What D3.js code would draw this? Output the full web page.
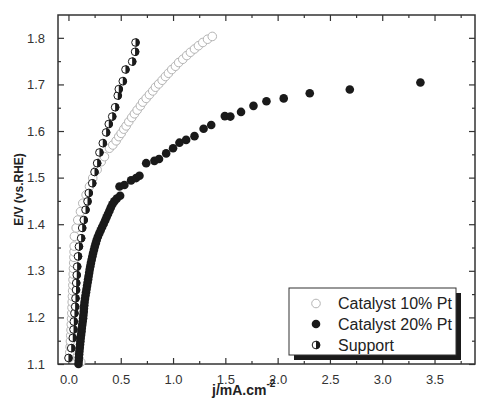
<!DOCTYPE html>
<html>
<head>
<meta charset="utf-8">
<script src="https://cdn.jsdelivr.net/npm/d3@7/dist/d3.min.js"></script>
<style>
  html, body { margin: 0; padding: 0; background: #fff; }
  svg { display: block; font-family: Arial, "Liberation Sans", sans-serif; }
</style>
</head>
<body>
<div id="chart"></div>
<script>
// polarisation curves, E (V vs RHE) against j (mA/cm2)
const seriesNames = ['Catalyst 10% Pt', 'Catalyst 20% Pt', 'Support'];

const xTicks = [0.0, 0.5, 1.0, 1.5, 2.0, 2.5, 3.0, 3.5];
const yTicks = [1.1, 1.2, 1.3, 1.4, 1.5, 1.6, 1.7, 1.8];

// [j, E]
const cat10 = [
  [0.118, 1.104], [0.010, 1.113], [0.013, 1.125], [0.016, 1.137], [0.019, 1.149],
  [0.022, 1.161], [0.025, 1.173], [0.027, 1.185], [0.030, 1.197], [0.032, 1.209],
  [0.034, 1.221], [0.036, 1.233], [0.038, 1.245], [0.040, 1.257], [0.042, 1.269],
  [0.044, 1.281], [0.046, 1.293], [0.048, 1.305], [0.050, 1.317], [0.052, 1.329],
  [0.054, 1.341], [0.055, 1.353], [0.057, 1.374], [0.074, 1.392], [0.089, 1.409],
  [0.115, 1.427], [0.137, 1.445], [0.169, 1.463], [0.201, 1.481], [0.232, 1.499],
  [0.274, 1.517], [0.313, 1.534], [0.344, 1.545], [0.392, 1.563], [0.424, 1.570],
  [0.456, 1.579], [0.481, 1.588], [0.504, 1.595], [0.529, 1.604], [0.552, 1.611],
  [0.577, 1.620], [0.605, 1.629], [0.631, 1.637], [0.657, 1.645], [0.688, 1.654],
  [0.710, 1.662], [0.743, 1.670], [0.774, 1.678], [0.806, 1.686], [0.832, 1.694],
  [0.863, 1.701], [0.896, 1.709], [0.927, 1.717], [0.956, 1.724], [0.988, 1.732],
  [1.023, 1.739], [1.054, 1.747], [1.093, 1.754], [1.131, 1.762], [1.166, 1.769],
  [1.205, 1.776], [1.243, 1.783], [1.284, 1.790], [1.330, 1.797], [1.375, 1.803]
];

const cat20 = [
  [0.096, 1.100], [0.098, 1.107], [0.100, 1.114], [0.102, 1.121], [0.105, 1.128],
  [0.108, 1.135], [0.111, 1.142], [0.114, 1.149], [0.117, 1.156], [0.121, 1.163],
  [0.125, 1.170], [0.128, 1.177], [0.132, 1.184], [0.136, 1.191], [0.140, 1.198],
  [0.143, 1.205], [0.146, 1.212], [0.148, 1.219], [0.151, 1.226], [0.154, 1.233],
  [0.158, 1.240], [0.163, 1.247], [0.168, 1.254], [0.173, 1.261], [0.178, 1.268],
  [0.183, 1.275], [0.188, 1.282], [0.193, 1.289], [0.198, 1.296], [0.203, 1.303],
  [0.209, 1.310], [0.215, 1.317], [0.222, 1.324], [0.229, 1.331], [0.236, 1.338],
  [0.244, 1.345], [0.252, 1.352], [0.261, 1.359], [0.270, 1.366], [0.281, 1.373],
  [0.294, 1.380], [0.308, 1.387], [0.322, 1.394], [0.337, 1.401], [0.351, 1.408],
  [0.364, 1.415], [0.378, 1.422], [0.392, 1.429], [0.405, 1.436], [0.420, 1.443],
  [0.438, 1.449], [0.462, 1.455], [0.494, 1.461], [0.488, 1.481], [0.535, 1.484],
  [0.599, 1.494], [0.647, 1.499], [0.679, 1.504], [0.743, 1.531], [0.822, 1.536],
  [0.866, 1.540], [0.934, 1.552], [1.000, 1.563], [1.061, 1.575], [1.125, 1.581],
  [1.205, 1.589], [1.292, 1.605], [1.365, 1.613], [1.495, 1.632], [1.548, 1.631],
  [1.650, 1.641], [1.769, 1.654], [1.893, 1.664], [2.058, 1.670], [2.307, 1.681],
  [2.690, 1.689], [3.365, 1.704]
];

const support = [
  [0.000, 1.113], [0.026, 1.134], [0.041, 1.156], [0.048, 1.174], [0.051, 1.191],
  [0.057, 1.209], [0.064, 1.223], [0.067, 1.241], [0.072, 1.259], [0.074, 1.274],
  [0.079, 1.291], [0.083, 1.309], [0.091, 1.331], [0.100, 1.352], [0.121, 1.370],
  [0.131, 1.392], [0.146, 1.409], [0.163, 1.431], [0.182, 1.449], [0.194, 1.467],
  [0.227, 1.488], [0.249, 1.512], [0.274, 1.531], [0.296, 1.554], [0.328, 1.574],
  [0.360, 1.597], [0.385, 1.615], [0.418, 1.631], [0.446, 1.651], [0.471, 1.676],
  [0.481, 1.690], [0.519, 1.707], [0.545, 1.732], [0.609, 1.749], [0.637, 1.770],
  [0.641, 1.790]
];

const W = 477, H = 399;
const margin = { top: 15, right: 2, bottom: 35, left: 58 };
const innerW = W - margin.left - margin.right;
const innerH = H - margin.top - margin.bottom;

const x = d3.scaleLinear().domain([-0.1, 3.887]).range([0, innerW]);
const y = d3.scaleLinear().domain([1.1, 1.849]).range([innerH, 0]);

const svg = d3.select('#chart').append('svg')
  .attr('width', W).attr('height', H);

const g = svg.append('g').attr('transform', `translate(${margin.left},${margin.top})`);

const axisColor = '#333';
const R = 4.3;

// minor ticks halfway between the labelled ones
const xMinor = xTicks.map(t => t + 0.25).filter(t => t < 3.887);
const yMinor = yTicks.map(t => t + 0.05).filter(t => t < 1.849);

function styleAxis(sel) {
  sel.select('.domain').remove();
  sel.selectAll('line').attr('stroke', axisColor).attr('stroke-width', 1.2);
  sel.selectAll('text').attr('fill', '#333').style('font-size', '13px');
}

// major ticks, pointing inward on all four sides
g.append('g').attr('transform', `translate(0,${innerH})`)
  .call(d3.axisBottom(x).tickValues(xTicks).tickFormat(d3.format('.1f')).tickSizeInner(-6).tickSizeOuter(0).tickPadding(11))
  .call(styleAxis);
g.append('g').attr('transform', `translate(0,${innerH})`)
  .call(d3.axisBottom(x).tickValues(xMinor).tickFormat('').tickSizeInner(-3).tickSizeOuter(0))
  .call(styleAxis);
g.append('g')
  .call(d3.axisTop(x).tickValues(xTicks).tickFormat('').tickSizeInner(-6).tickSizeOuter(0))
  .call(styleAxis);
g.append('g')
  .call(d3.axisTop(x).tickValues(xMinor).tickFormat('').tickSizeInner(-3).tickSizeOuter(0))
  .call(styleAxis);

g.append('g')
  .call(d3.axisLeft(y).tickValues(yTicks).tickFormat(d3.format('.1f')).tickSizeInner(-6).tickSizeOuter(0).tickPadding(13))
  .call(styleAxis);
g.append('g')
  .call(d3.axisLeft(y).tickValues(yMinor).tickFormat('').tickSizeInner(-3).tickSizeOuter(0))
  .call(styleAxis);
g.append('g').attr('transform', `translate(${innerW},0)`)
  .call(d3.axisRight(y).tickValues(yTicks).tickFormat('').tickSizeInner(-6).tickSizeOuter(0))
  .call(styleAxis);
g.append('g').attr('transform', `translate(${innerW},0)`)
  .call(d3.axisRight(y).tickValues(yMinor).tickFormat('').tickSizeInner(-3).tickSizeOuter(0))
  .call(styleAxis);

// frame
g.append('rect')
  .attr('x', 0).attr('y', 0).attr('width', innerW).attr('height', innerH)
  .attr('fill', 'none').attr('stroke', axisColor).attr('stroke-width', 1.5);

// series
const plot = g.append('g');

plot.selectAll('circle.c10').data(cat10).join('circle')
  .attr('class', 'c10')
  .attr('cx', d => x(d[0])).attr('cy', d => y(d[1])).attr('r', R)
  .attr('fill', '#fff').attr('stroke', '#b4b4b4').attr('stroke-width', 1);

plot.selectAll('circle.c20').data(cat20).join('circle')
  .attr('class', 'c20')
  .attr('cx', d => x(d[0])).attr('cy', d => y(d[1])).attr('r', R)
  .attr('fill', '#1a1a1a');

const halfPath = `M0,${-R}A${R},${R} 0 0 1 0,${R}Z`;

function halfMarker(sel) {
  sel.append('circle').attr('r', R - 0.5).attr('fill', '#fff').attr('stroke', '#1a1a1a').attr('stroke-width', 1);
  sel.append('path').attr('d', halfPath).attr('fill', '#1a1a1a');
}

plot.selectAll('g.sup').data(support).join('g')
  .attr('class', 'sup')
  .attr('transform', d => `translate(${x(d[0])},${y(d[1])})`)
  .call(halfMarker);

// legend with drop shadow
const lg = svg.append('g').attr('transform', 'translate(289,288)');
lg.append('rect').attr('x', 5).attr('y', 5).attr('width', 167).attr('height', 67).attr('fill', '#1a1a1a');
lg.append('rect').attr('x', 0).attr('y', 0).attr('width', 167).attr('height', 67)
  .attr('fill', '#fff').attr('stroke', '#333').attr('stroke-width', 1);

const rowY = [15.5, 36, 57];
seriesNames.forEach((name, i) => {
  const row = lg.append('g').attr('transform', `translate(27,${rowY[i]})`);
  if (i === 0) row.append('circle').attr('r', R).attr('fill', '#fff').attr('stroke', '#b4b4b4');
  else if (i === 1) row.append('circle').attr('r', R).attr('fill', '#1a1a1a');
  else row.call(halfMarker);
  row.append('text').attr('x', 22).attr('y', 5.5)
    .attr('fill', '#222').style('font-size', '16px').text(name);
});

// axis titles
svg.append('text')
  .attr('transform', `translate(23,${margin.top + innerH / 2}) rotate(-90)`)
  .attr('text-anchor', 'middle')
  .style('font-size', '12px').style('font-weight', 'bold').attr('fill', '#222')
  .text('E/V (vs.RHE)');

const xt = svg.append('text')
  .attr('x', 212).attr('y', 395)
  .style('font-size', '14px').style('font-weight', 'bold').attr('fill', '#222');
xt.append('tspan').text('j/mA.cm');
xt.append('tspan').attr('dy', -8).style('font-size', '10px').text('-2');
</script>
</body>
</html>
